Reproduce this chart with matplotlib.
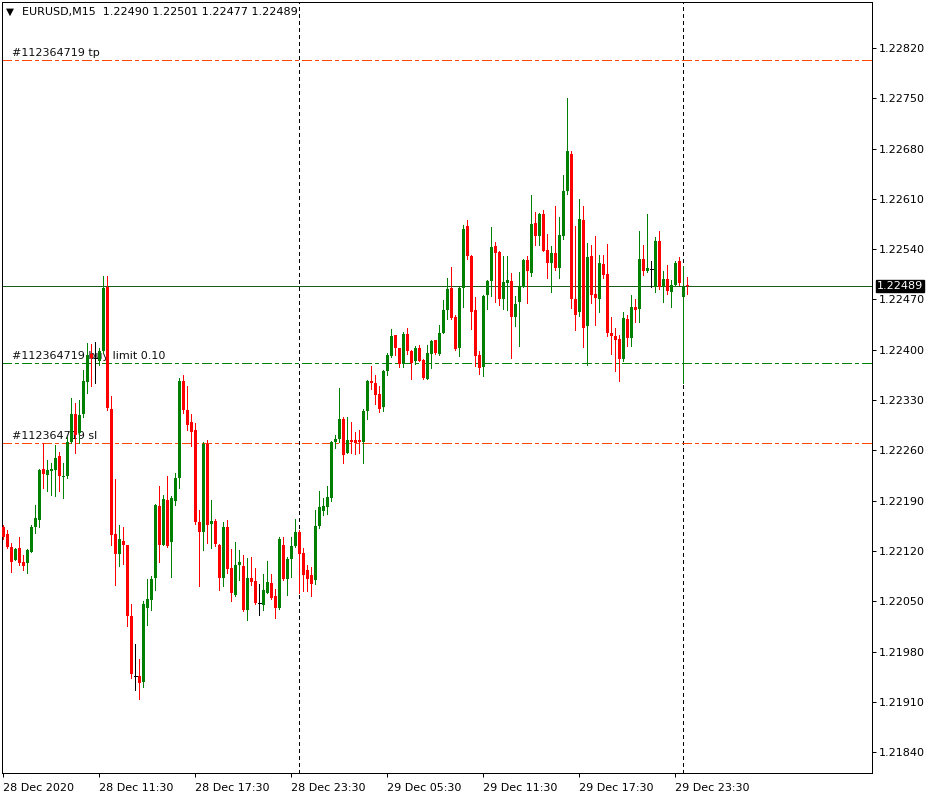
import matplotlib
matplotlib.use('Agg')
import matplotlib.pyplot as plt
import numpy as np
import pandas as pd

# EURUSD M15 candles, first bar 28 Dec 2020 05:30
start_time = '2020-12-28 05:30'
opens = [1.22154, 1.22143, 1.22126, 1.22108, 1.22124, 1.22104, 1.22103, 1.22119, 1.22154, 1.22163,
         1.22234, 1.22226, 1.22231, 1.22232, 1.22252, 1.22223, 1.22224, 1.22272, 1.22311, 1.22284,
         1.22310, 1.22355, 1.22394, 1.22388, 1.22384, 1.22398, 1.22488, 1.22317, 1.22144, 1.22116,
         1.22134, 1.22128, 1.22030, 1.21946, 1.21946, 1.21937, 1.22040, 1.22052, 1.22083, 1.22183,
         1.22129, 1.22191, 1.22132, 1.22189, 1.22222, 1.22356, 1.22316, 1.22299, 1.22289, 1.22160,
         1.22147, 1.22269, 1.22157, 1.22162, 1.22129, 1.22083, 1.22154, 1.22096, 1.22059, 1.22101,
         1.22099, 1.22038, 1.22082, 1.22078, 1.22048, 1.22045, 1.22061, 1.22075, 1.22057, 1.22040,
         1.22129, 1.22081, 1.22109, 1.22127, 1.22147, 1.22117, 1.22094, 1.22087, 1.22079, 1.22155,
         1.22176, 1.22181, 1.22194, 1.22272, 1.22276, 1.22304, 1.22257, 1.22275, 1.22275, 1.22274,
         1.22272, 1.22315, 1.22357, 1.22354, 1.22338, 1.22321, 1.22371, 1.22391, 1.22420, 1.22402,
         1.22380, 1.22422, 1.22398, 1.22384, 1.22403, 1.22386, 1.22359, 1.22394, 1.22413, 1.22394,
         1.22424, 1.22456, 1.22486, 1.22445, 1.22402, 1.22486, 1.22572, 1.22531, 1.22455, 1.22393,
         1.22376, 1.22476, 1.22496, 1.22545, 1.22536, 1.22470, 1.22493, 1.22496, 1.22445, 1.22466,
         1.22488, 1.22525, 1.22507, 1.22576, 1.22559, 1.22589, 1.22539, 1.22521, 1.22534, 1.22514,
         1.22559, 1.22621, 1.22672, 1.22470, 1.22452, 1.22580, 1.22433, 1.22531, 1.22477, 1.22471,
         1.22520, 1.22505, 1.22424, 1.22419, 1.22415, 1.22387, 1.22443, 1.22417, 1.22459, 1.22457,
         1.22526, 1.22510, 1.22513, 1.22487, 1.22551, 1.22487, 1.22499, 1.22481, 1.22490, 1.22524,
         1.22474, 1.22490]
highs = [1.22156, 1.22149, 1.22131, 1.22124, 1.22140, 1.22115, 1.22123, 1.22156, 1.22184, 1.22234,
         1.22270, 1.22247, 1.22242, 1.22268, 1.22258, 1.22242, 1.22279, 1.22333, 1.22326, 1.22330,
         1.22372, 1.22409, 1.22408, 1.22411, 1.22402, 1.22502, 1.22502, 1.22336, 1.22220, 1.22156,
         1.22153, 1.22129, 1.22046, 1.21991, 1.21969, 1.22050, 1.22081, 1.22085, 1.22185, 1.22211,
         1.22198, 1.22225, 1.22197, 1.22228, 1.22361, 1.22365, 1.22350, 1.22311, 1.22298, 1.22177,
         1.22272, 1.22275, 1.22191, 1.22165, 1.22130, 1.22161, 1.22163, 1.22123, 1.22132, 1.22121,
         1.22115, 1.22110, 1.22112, 1.22096, 1.22074, 1.22088, 1.22106, 1.22088, 1.22067, 1.22139,
         1.22140, 1.22111, 1.22139, 1.22164, 1.22149, 1.22124, 1.22101, 1.22098, 1.22177, 1.22203,
         1.22194, 1.22210, 1.22273, 1.22282, 1.22347, 1.22307, 1.22307, 1.22300, 1.22286, 1.22289,
         1.22317, 1.22358, 1.22377, 1.22365, 1.22350, 1.22372, 1.22395, 1.22429, 1.22421, 1.22403,
         1.22425, 1.22430, 1.22400, 1.22405, 1.22407, 1.22387, 1.22407, 1.22414, 1.22414, 1.22435,
         1.22469, 1.22500, 1.22515, 1.22449, 1.22487, 1.22573, 1.22580, 1.22532, 1.22473, 1.22398,
         1.22476, 1.22497, 1.22571, 1.22550, 1.22537, 1.22530, 1.22530, 1.22507, 1.22475, 1.22508,
         1.22526, 1.22530, 1.22616, 1.22592, 1.22591, 1.22594, 1.22561, 1.22544, 1.22600, 1.22585,
         1.22643, 1.22750, 1.22677, 1.22572, 1.22610, 1.22600, 1.22548, 1.22546, 1.22559, 1.22532,
         1.22532, 1.22547, 1.22446, 1.22430, 1.22421, 1.22453, 1.22449, 1.22476, 1.22470, 1.22565,
         1.22546, 1.22589, 1.22524, 1.22557, 1.22565, 1.22510, 1.22518, 1.22497, 1.22524, 1.22529,
         1.22517, 1.22501]
lows = [1.22136, 1.22124, 1.22091, 1.22107, 1.22101, 1.22094, 1.22089, 1.22118, 1.22145, 1.22154,
        1.22208, 1.22203, 1.22198, 1.22196, 1.22203, 1.22194, 1.22221, 1.22270, 1.22256, 1.22270,
        1.22307, 1.22340, 1.22349, 1.22354, 1.22379, 1.22395, 1.22316, 1.22129, 1.22072, 1.22099,
        1.22102, 1.22016, 1.21943, 1.21926, 1.21914, 1.21931, 1.22017, 1.22038, 1.22066, 1.22104,
        1.22128, 1.22126, 1.22084, 1.22184, 1.22208, 1.22312, 1.22288, 1.22266, 1.22158, 1.22071,
        1.22122, 1.22131, 1.22124, 1.22127, 1.22066, 1.22071, 1.22089, 1.22050, 1.22057, 1.22080,
        1.22037, 1.22024, 1.22073, 1.22046, 1.22031, 1.22038, 1.22061, 1.22053, 1.22027, 1.22039,
        1.22080, 1.22059, 1.22084, 1.22126, 1.22062, 1.22064, 1.22064, 1.22057, 1.22074, 1.22152,
        1.22170, 1.22172, 1.22190, 1.22263, 1.22272, 1.22243, 1.22256, 1.22257, 1.22255, 1.22256,
        1.22243, 1.22303, 1.22346, 1.22325, 1.22314, 1.22315, 1.22365, 1.22390, 1.22393, 1.22376,
        1.22376, 1.22394, 1.22359, 1.22380, 1.22384, 1.22359, 1.22359, 1.22374, 1.22394, 1.22393,
        1.22423, 1.22443, 1.22443, 1.22400, 1.22391, 1.22460, 1.22527, 1.22429, 1.22377, 1.22366,
        1.22364, 1.22457, 1.22475, 1.22466, 1.22462, 1.22457, 1.22456, 1.22388, 1.22433, 1.22405,
        1.22487, 1.22465, 1.22503, 1.22546, 1.22546, 1.22537, 1.22500, 1.22481, 1.22511, 1.22500,
        1.22554, 1.22617, 1.22458, 1.22427, 1.22447, 1.22404, 1.22379, 1.22465, 1.22435, 1.22453,
        1.22500, 1.22419, 1.22394, 1.22370, 1.22357, 1.22384, 1.22405, 1.22405, 1.22439, 1.22439,
        1.22504, 1.22508, 1.22487, 1.22481, 1.22484, 1.22466, 1.22478, 1.22460, 1.22489, 1.22490,
        1.22354, 1.22477]
closes = [1.22140, 1.22126, 1.22105, 1.22123, 1.22103, 1.22099, 1.22121, 1.22154, 1.22166, 1.22233,
          1.22227, 1.22232, 1.22234, 1.22250, 1.22224, 1.22225, 1.22272, 1.22311, 1.22282, 1.22309,
          1.22356, 1.22393, 1.22388, 1.22388, 1.22398, 1.22486, 1.22319, 1.22142, 1.22116, 1.22136,
          1.22128, 1.22030, 1.21949, 1.21946, 1.21936, 1.22046, 1.22053, 1.22081, 1.22184, 1.22129,
          1.22192, 1.22127, 1.22194, 1.22221, 1.22356, 1.22316, 1.22296, 1.22286, 1.22160, 1.22146,
          1.22269, 1.22156, 1.22162, 1.22130, 1.22083, 1.22154, 1.22095, 1.22061, 1.22101, 1.22104,
          1.22038, 1.22083, 1.22077, 1.22048, 1.22048, 1.22065, 1.22077, 1.22055, 1.22041, 1.22136,
          1.22081, 1.22109, 1.22127, 1.22146, 1.22116, 1.22087, 1.22081, 1.22074, 1.22155, 1.22181,
          1.22182, 1.22195, 1.22272, 1.22276, 1.22304, 1.22254, 1.22275, 1.22271, 1.22270, 1.22271,
          1.22315, 1.22357, 1.22354, 1.22337, 1.22317, 1.22371, 1.22393, 1.22419, 1.22402, 1.22380,
          1.22422, 1.22398, 1.22381, 1.22402, 1.22385, 1.22361, 1.22395, 1.22412, 1.22395, 1.22423,
          1.22455, 1.22485, 1.22444, 1.22401, 1.22486, 1.22568, 1.22531, 1.22452, 1.22391, 1.22375,
          1.22475, 1.22496, 1.22543, 1.22535, 1.22470, 1.22494, 1.22497, 1.22445, 1.22464, 1.22489,
          1.22525, 1.22509, 1.22575, 1.22559, 1.22589, 1.22538, 1.22521, 1.22534, 1.22514, 1.22560,
          1.22621, 1.22676, 1.22470, 1.22448, 1.22582, 1.22431, 1.22529, 1.22476, 1.22472, 1.22521,
          1.22504, 1.22424, 1.22419, 1.22414, 1.22387, 1.22444, 1.22417, 1.22460, 1.22456, 1.22526,
          1.22510, 1.22514, 1.22513, 1.22552, 1.22487, 1.22499, 1.22482, 1.22490, 1.22521, 1.22493,
          1.22487, 1.22489]

price_ticks = [1.21840, 1.21910, 1.21980, 1.22050, 1.22120, 1.22190, 1.22260, 1.22330,
               1.22400, 1.22470, 1.22540, 1.22610, 1.22680, 1.22750, 1.22820]
order_levels = [1.22803, 1.22382, 1.22270]
order_labels = ['#112364719 tp', '#112364719 buy limit 0.10', '#112364719 sl']
order_colors = ['#ff4500', '#008000', '#ff4500']
bid = 1.22489
header = 'EURUSD,M15  1.22490 1.22501 1.22477 1.22489'

o = np.array(opens)
h = np.array(highs)
l = np.array(lows)
c = np.array(closes)
x = np.arange(len(o))
times = pd.date_range(start_time, periods=len(o), freq='15min')

W, H = 936, 798
fig = plt.figure(figsize=(W / 100, H / 100), dpi=100)
ax = fig.add_axes([2 / W, 25 / H, 870 / W, 771 / H])
ax.set_xlim(-0.33, 217.2)
ax.set_ylim(1.21811, 1.22884)

px = 0.72  # one pixel in points
green = '#008000'
red = '#ff0000'
up = c > o
down = c < o
flat = c == o

# candles: wicks then bodies
for mask, col in [(up, green), (down, red), (flat, 'black')]:
    ax.vlines(x[mask], l[mask], h[mask], color=col, lw=px, zorder=3, antialiased=False)
ax.bar(x[up], c[up] - o[up], bottom=o[up], width=0.75, color=green,
       linewidth=0, zorder=4, antialiased=False)
ax.bar(x[down], o[down] - c[down], bottom=c[down], width=0.75, color=red,
       linewidth=0, zorder=4, antialiased=False)
ax.hlines(c[flat], x[flat] - 0.4, x[flat] + 0.4, color='black', lw=px, zorder=4,
          antialiased=False)

# day separators
for i, t in enumerate(times):
    if t.hour == 0 and t.minute == 0:
        ax.axvline(i, color='black', lw=px, dashes=(3, 3), zorder=1, antialiased=False)

# order levels
for lvl, lab, col in zip(order_levels, order_labels, order_colors):
    ax.axhline(lvl, color=col, lw=px, dashes=(10, 4, 3, 4), zorder=2, antialiased=False)
    ax.annotate(lab, xy=(0, lvl), xycoords=('axes fraction', 'data'),
                xytext=(10, 2), textcoords='offset pixels', fontsize=8,
                color='#101010', va='bottom', ha='left', zorder=1)

ax.axhline(bid, color='#1a5c1a', lw=px, zorder=2, antialiased=False)

# right price axis
ax.yaxis.tick_right()
ax.set_yticks(price_ticks)
ax.set_yticklabels([f'{p:.5f}' for p in price_ticks])
ax.tick_params(axis='y', length=3, width=px, pad=2, labelsize=8)

tick_pos = list(range(0, len(o), 24))
tick_lab = []
for i in tick_pos:
    t = times[i]
    tick_lab.append(t.strftime('%d %b %Y') if i == 0 else t.strftime('%d %b %H:%M'))
ax.set_xticks(tick_pos)
ax.set_xticklabels(tick_lab)
ax.tick_params(axis='x', length=3, width=px, pad=4, labelsize=8)
for lbl in ax.get_xticklabels():
    lbl.set_ha('left')

for s in ax.spines.values():
    s.set_linewidth(px)

ax.annotate(f'{bid:.5f}', xy=(1, bid), xycoords=('axes fraction', 'data'),
            xytext=(5, 0), textcoords='offset pixels', fontsize=8, color='white',
            va='center', ha='left',
            bbox=dict(boxstyle='square,pad=0.1', fc='black', ec='black'))

ax.text(4 / 870, 1 - 10 / 771, '\u25bc', transform=ax.transAxes, fontsize=7.5,
        va='center', ha='left', color='black')
ax.text(20 / 870, 1 - 10 / 771, header, transform=ax.transAxes, fontsize=8,
        va='center', ha='left', color='black')

fig.savefig('out.png', dpi=100)
